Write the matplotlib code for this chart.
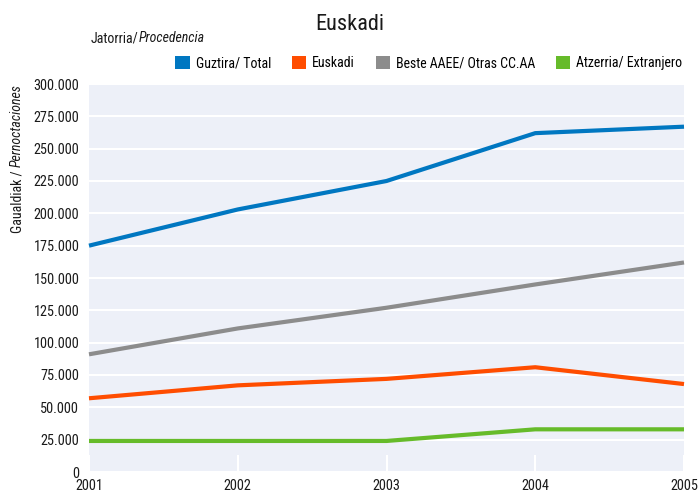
import matplotlib
matplotlib.use("Agg")
import matplotlib.pyplot as plt
from matplotlib import font_manager
from matplotlib.patches import Patch
from matplotlib.ticker import FuncFormatter, MultipleLocator

avail = {f.name for f in font_manager.fontManager.ttflist}
cond = [f for f in font_manager.fontManager.ttflist if f.stretch in ('condensed', 'semi-condensed', 'extra-condensed')]
fam = None
for cand in ['Roboto Condensed', 'Liberation Sans Narrow', 'Open Sans Condensed', 'DejaVu Sans Condensed', 'Noto Sans Condensed']:
    if cand in avail:
        fam = cand
        break
if fam is None and cond:
    fam = cond[0].name
if fam is None:
    fam = 'DejaVu Sans'
plt.rcParams['font.family'] = [fam, 'DejaVu Sans']
plt.rcParams['font.stretch'] = 'condensed'

years = [2001, 2002, 2003, 2004, 2005]
total = [175000, 203000, 225000, 262000, 267000]
euskadi = [57000, 67000, 72000, 81000, 68000]
otras = [91000, 111000, 127000, 145000, 162000]
extranjero = [24000, 24000, 24000, 33000, 33000]

series_names = ["Guztira/ Total", "Euskadi", "Beste AAEE/ Otras CC.AA", "Atzerria/ Extranjero"]
series_values = [total, euskadi, otras, extranjero]
colors = ["#0077C1", "#FF4D00", "#8C8C8C", "#66BB2A"]

fs = 10
fig = plt.figure(figsize=(6.99, 4.95), dpi=100)
ax = fig.add_axes([89/699, 23/495, (684-89)/699, (472-84)/495])
ax.set_facecolor("#EDF0F8")

for vals, c in zip(series_values, colors):
    ax.plot(years, vals, color=c, lw=3.0, solid_capstyle='butt', clip_on=False, zorder=3)

ax.set_xlim(2001, 2005)
ax.set_ylim(0, 300000)
ax.yaxis.set_major_locator(MultipleLocator(25000))
ax.set_xticks(years)
ax.yaxis.set_major_formatter(FuncFormatter(lambda v, p: "0" if v == 0 else f"{int(v):,}".replace(",", ".")))
ax.grid(axis='y', color='white', lw=1.5, zorder=1)
for s in ax.spines.values():
    s.set_visible(False)
ax.tick_params(axis='y', length=0, pad=7, labelsize=10.3, colors='#1a1a1a')
ax.tick_params(axis='x', direction='in', length=12, width=1.5, color='white', pad=5, labelsize=10.3, labelcolor='#1a1a1a')
ax.set_axisbelow(True)

fig.text(0.5, 1 - 24/495, "Euskadi", ha='center', va='center', fontsize=16, color='#1a1a1a')

t1 = fig.text(91/699, 1 - 38.5/495, "Jatorria/", ha='left', va='center', fontsize=fs, color='#1a1a1a')
ax.annotate("Procedencia", xy=(1, 0), xycoords=t1, ha='left', va='bottom',
            fontsize=fs, style='italic', color='#1a1a1a', annotation_clip=False)

t2 = fig.text(17/699, 1 - 233/495, "Gaualdiak / ", rotation=90, ha='center', va='bottom', fontsize=fs, color='#1a1a1a')
ax.annotate("Pernoctaciones", xy=(0, 1), xycoords=t2, ha='left', va='bottom', rotation=90,
            fontsize=fs, style='italic', color='#1a1a1a', annotation_clip=False)

handles = [Patch(facecolor=c, edgecolor='none') for c in colors]
fig.legend(handles, series_names, loc='center right', bbox_to_anchor=(682/699, 1 - 63/495),
           ncol=4, frameon=False, handlelength=1.05, handleheight=1.15, handletextpad=0.4,
           columnspacing=1.5, fontsize=fs, borderaxespad=0, borderpad=0)

fig.savefig("out.png", dpi=100)
